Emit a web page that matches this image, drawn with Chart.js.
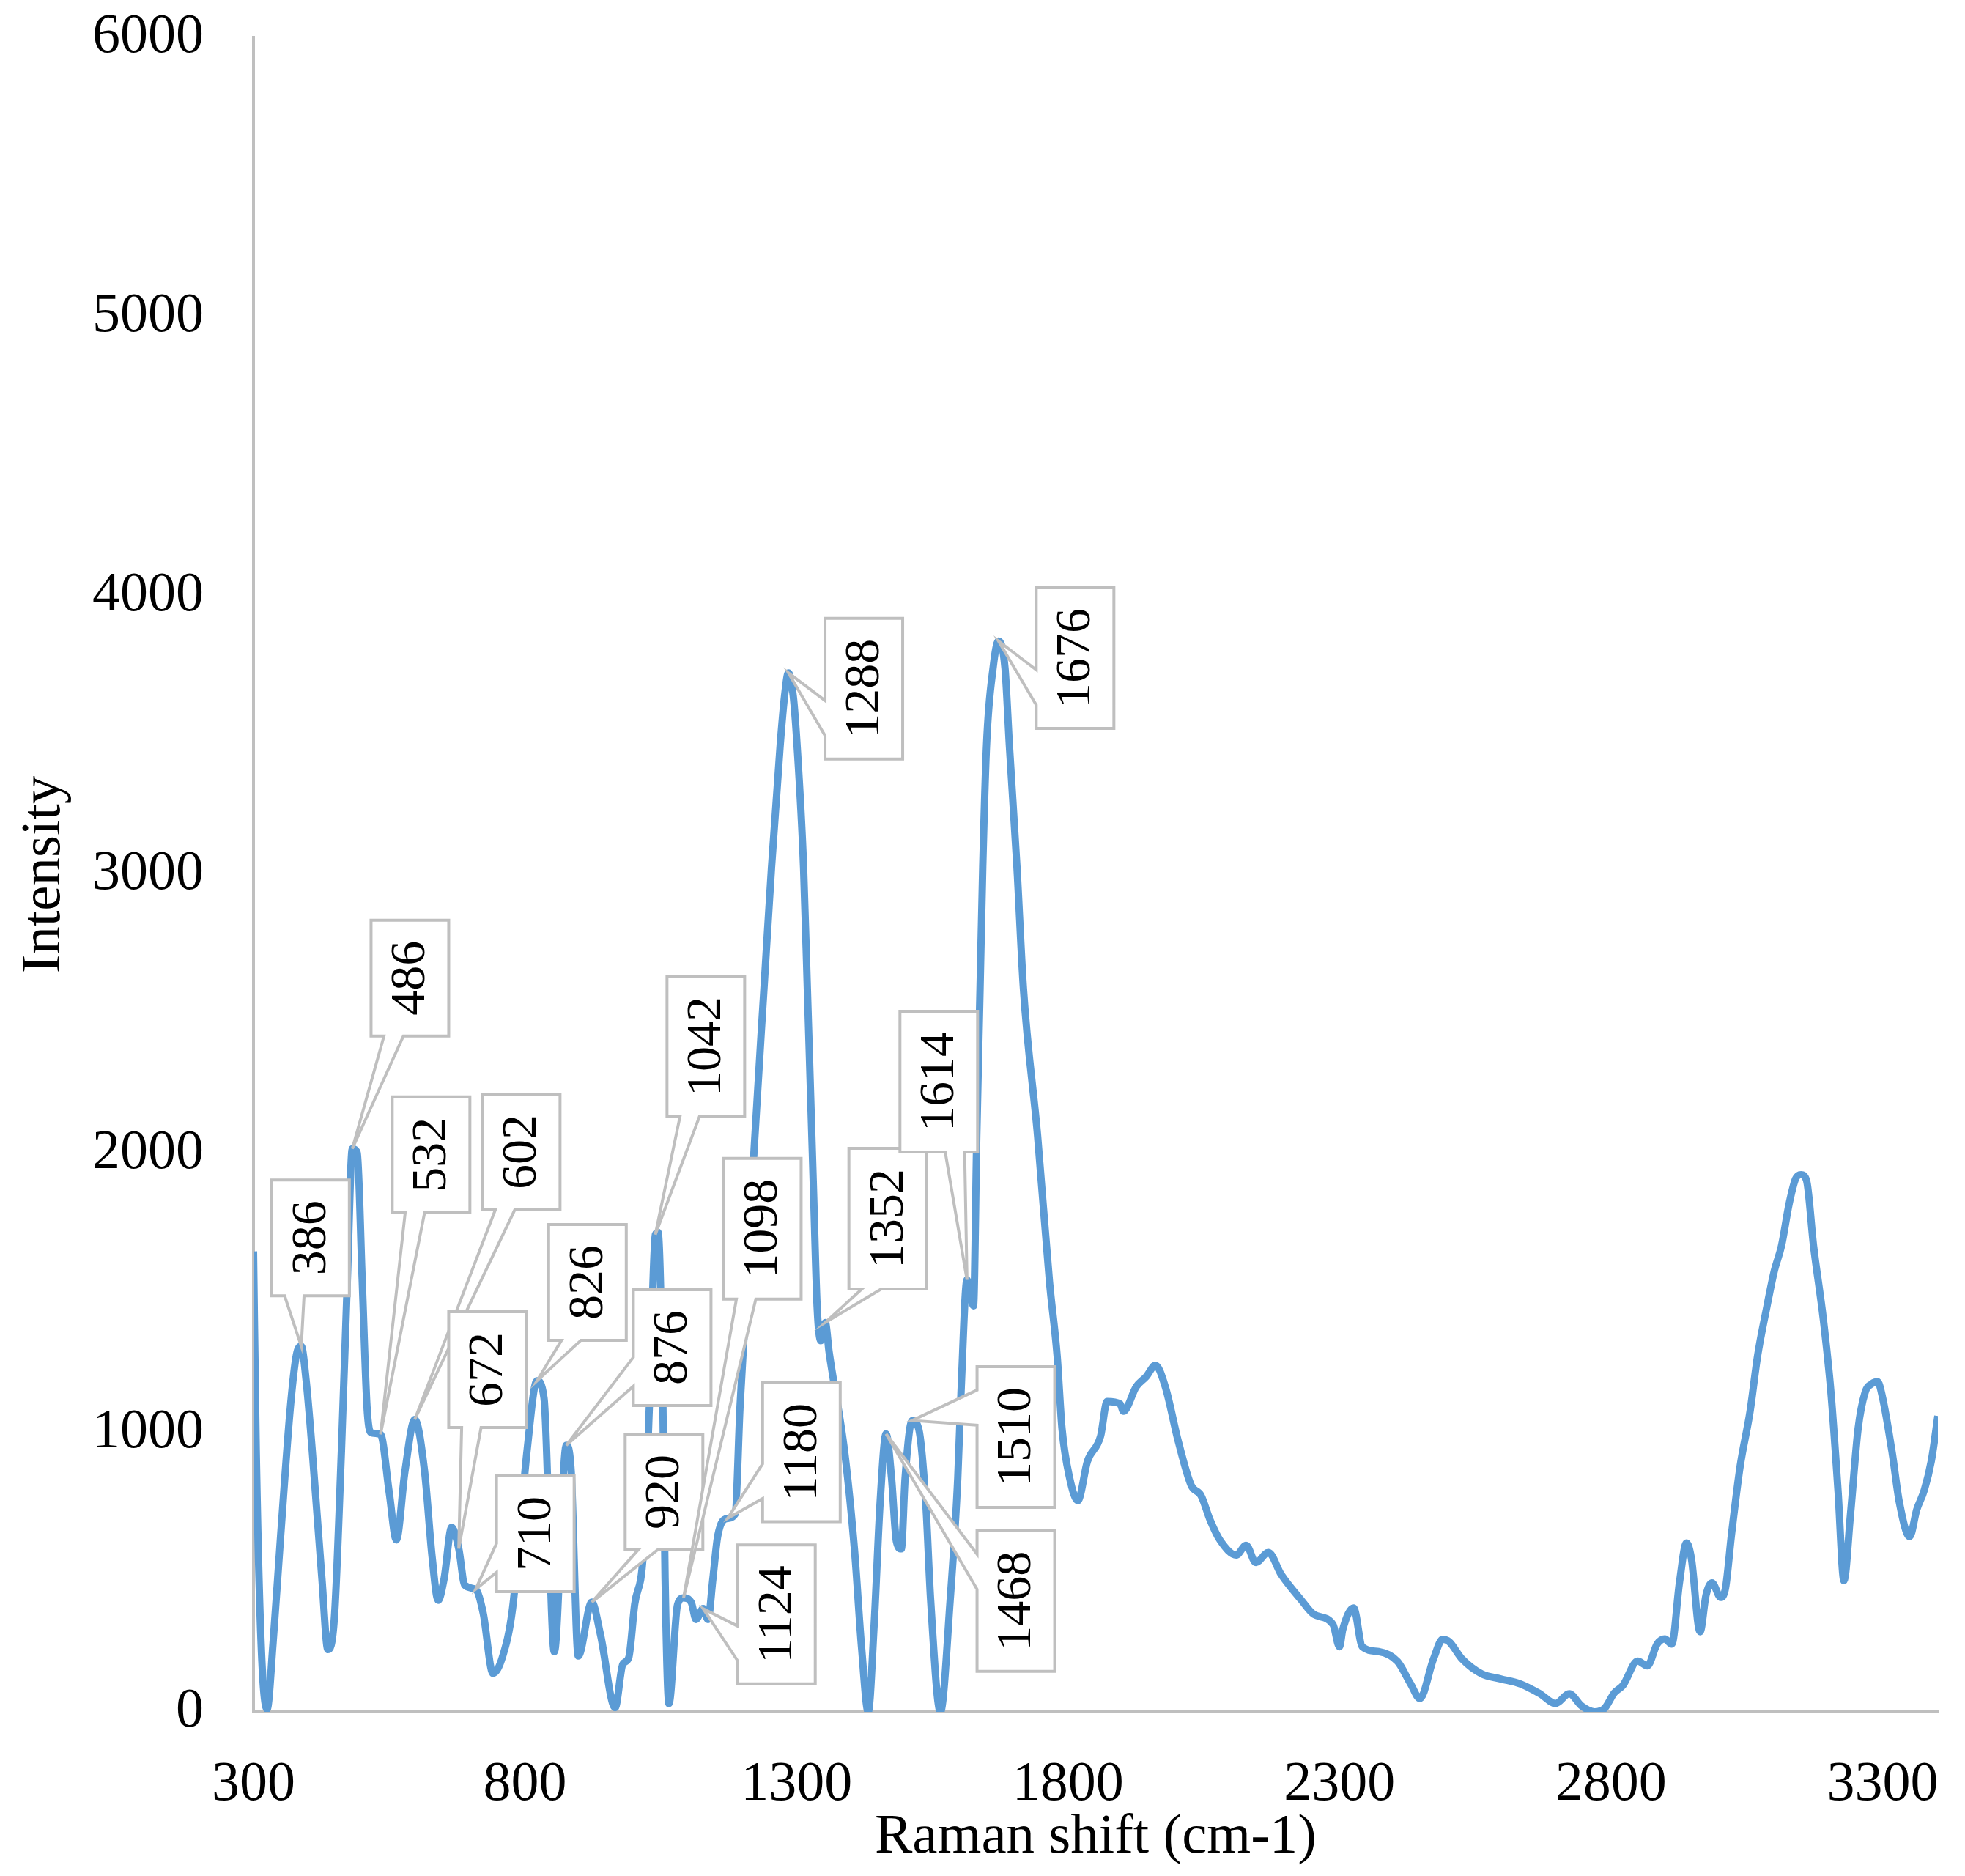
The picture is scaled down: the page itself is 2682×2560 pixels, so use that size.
<!DOCTYPE html>
<html>
<head>
<meta charset="utf-8">
<title>Raman spectrum</title>
<script src="https://cdn.jsdelivr.net/npm/chart.js@4.4.1/dist/chart.umd.min.js"></script>
<style>
  html, body { margin: 0; padding: 0; background: #fff; }
  canvas { display: block; }
</style>
</head>
<body>
<canvas id="spectrum" width="2682" height="2560"></canvas>
<script>
// ============================================================
// Raman spectrum with peak callouts
// ============================================================

// --- data ---
const shift = [
  300, 305, 314, 325, 336, 350, 368, 379, 388, 397, 408, 426, 437, 449, 462, 473, 482, 491, 500, 509,
  516, 534, 550, 563, 579, 597, 615, 629, 640, 651, 665, 678, 689, 709, 723, 741, 759, 777, 804, 822,
  835, 854, 876, 885, 898, 923, 939, 966, 980, 991, 1002, 1018, 1029, 1040, 1045, 1054, 1058, 1065, 1081, 1092,
  1106, 1115, 1128, 1137, 1146, 1155, 1173, 1187, 1196, 1205, 1222, 1240, 1254, 1270, 1278, 1285, 1294, 1301, 1313, 1320,
  1331, 1338, 1345, 1353, 1360, 1389, 1407, 1420, 1432, 1443, 1454, 1465, 1475, 1484, 1493, 1500, 1513, 1525, 1538, 1547,
  1565, 1583, 1597, 1603, 1614, 1626, 1632, 1638, 1643, 1650, 1662, 1672, 1684, 1692, 1706, 1718, 1744, 1766, 1780, 1789,
  1803, 1818, 1836, 1860, 1872, 1896, 1902, 1926, 1944, 1961, 1979, 2003, 2027, 2045, 2062, 2080, 2110, 2128, 2146, 2169,
  2193, 2229, 2253, 2288, 2300, 2306, 2326, 2342, 2372, 2407, 2431, 2448, 2473, 2490, 2502, 2526, 2562, 2597, 2633, 2669,
  2698, 2723, 2746, 2770, 2788, 2806, 2822, 2849, 2867, 2885, 2899, 2912, 2926, 2939, 2948, 2964, 2975, 2986, 3002, 3011,
  3022, 3038, 3056, 3070, 3087, 3101, 3114, 3128, 3140, 3150, 3160, 3173, 3191, 3205, 3218, 3229, 3241, 3255, 3268, 3280,
  3291, 3300, 3318, 3331, 3350, 3363, 3377, 3390, 3402
];
const intensity = [
  1650, 940, 246, 10, 246, 631, 1094, 1279, 1310, 1186, 940, 477, 223, 339, 940, 1556, 2018, 2003, 1556, 1094,
  1001, 994, 785, 616, 863, 1048, 863, 554, 400, 477, 662, 585, 454, 439, 354, 138, 200, 369, 940, 1186,
  1125, 215, 955, 863, 200, 393, 277, 15, 170, 194, 385, 571, 1094, 1710, 1718, 1094, 477, 30, 385, 408,
  393, 331, 370, 331, 477, 631, 693, 709, 1094, 1402, 2018, 2589, 3027, 3465, 3640, 3723, 3640, 3465, 3027, 2589,
  1889, 1451, 1330, 1395, 1290, 926, 576, 226, 0, 313, 751, 996, 838, 610, 584, 838, 1044, 1014, 751, 401,
  0, 401, 838, 1145, 1548, 1455, 2064, 2589, 3027, 3465, 3740, 3837, 3740, 3465, 3027, 2589, 2064, 1539, 1276, 1014,
  838, 757, 899, 988, 1112, 1103, 1077, 1166, 1201, 1242, 1166, 970, 811, 775, 686, 615, 562, 597, 535, 571,
  491, 402, 349, 313, 233, 295, 372, 233, 216, 180, 100, 48, 189, 260, 251, 189, 136, 118, 100, 65,
  30, 65, 21, 0, 12, 68, 95, 182, 165, 243, 261, 243, 462, 605, 550, 287, 418, 462, 410, 445,
  637, 882, 1075, 1276, 1451, 1582, 1670, 1820, 1910, 1925, 1905, 1670, 1407, 1145, 795, 470, 707, 1014, 1145, 1175,
  1183, 1127, 926, 751, 628, 724, 795, 900, 1060
];

// axis ticks
const xTickValues = [300, 800, 1300, 1800, 2300, 2800, 3300];
const yTickValues = [0, 1000, 2000, 3000, 4000, 5000, 6000];

// peak labels (the value shown is also the shift the callout points to)
const peakLabels = [386, 486, 532, 602, 672, 710, 826, 876, 920, 1042, 1098, 1124, 1180, 1288, 1352, 1614, 1676, 1468, 1510];

// --- callout layout (box centre in axis units, side the pointer leaves from) ---
const calloutBoxX = [405, 588, 627, 793, 731, 819, 915, 1071, 1056, 1133, 1237, 1263, 1309, 1424, 1468, 1562, 1813, 1704, 1704];
const calloutBoxY = [1698, 2629, 1996, 2006, 1226, 638, 1539, 1305, 788, 2384, 1731, 349, 930, 3666, 1767, 2258, 3776, 397, 985];
const calloutSide = ["b1", "b1", "b1", "b1", "b1", "l2", "b1", "l2", "b1", "b1", "b1", "l2", "l2", "l2", "b1", "b2", "l2", "l1", "l1"];

const SERIF = '"Liberation Serif", "Times New Roman", serif';
const GREY = "#bfbfbf";
const BLUE = "#5b9bd5";

function nearestIndex(value) {
  let best = 0;
  for (let i = 1; i < shift.length; i++) {
    if (Math.abs(shift[i] - value) < Math.abs(shift[best] - value)) best = i;
  }
  return best;
}

const calloutPlugin = {
  id: "callouts",
  afterDatasetsDraw(chart) {
    const { ctx, scales: { x, y } } = chart;
    ctx.save();
    ctx.font = "68px " + SERIF;
    peakLabels.forEach((label, i) => {
      const text = String(label);
      const k = nearestIndex(label);
      const tipX = x.getPixelForValue(shift[k]);
      const tipY = y.getPixelForValue(intensity[k]);
      const cx = x.getPixelForValue(calloutBoxX[i]);
      const cy = y.getPixelForValue(calloutBoxY[i]);
      const w = 106;
      const h = ctx.measureText(text).width + 56;
      const x0 = cx - w / 2, x1 = cx + w / 2, y0 = cy - h / 2, y1 = cy + h / 2;
      const side = calloutSide[i];
      const f = side[1] === "1" ? [1 / 6, 5 / 12] : [7 / 12, 5 / 6];

      ctx.beginPath();
      ctx.moveTo(x0, y0);
      ctx.lineTo(x1, y0);
      ctx.lineTo(x1, y1);
      if (side[0] === "b") {
        ctx.lineTo(x0 + w * f[1], y1);
        ctx.lineTo(tipX, tipY);
        ctx.lineTo(x0 + w * f[0], y1);
        ctx.lineTo(x0, y1);
      } else {
        ctx.lineTo(x0, y1);
        ctx.lineTo(x0, y0 + h * f[1]);
        ctx.lineTo(tipX, tipY);
        ctx.lineTo(x0, y0 + h * f[0]);
      }
      ctx.closePath();
      ctx.fillStyle = "#fff";
      ctx.fill();
      ctx.lineWidth = 4;
      ctx.lineJoin = "miter";
      ctx.strokeStyle = GREY;
      ctx.stroke();

      ctx.save();
      ctx.translate(cx, cy);
      ctx.rotate(-Math.PI / 2);
      ctx.fillStyle = "#000";
      ctx.textAlign = "center";
      ctx.textBaseline = "middle";
      ctx.fillText(text, 0, 2);
      ctx.restore();
    });
    ctx.restore();
  },
};

new Chart(document.getElementById("spectrum"), {
  type: "line",
  data: {
    datasets: [{
      label: "Intensity",
      data: shift.map((s, i) => ({ x: s, y: intensity[i] })),
      borderColor: BLUE,
      borderWidth: 10,
      pointRadius: 0,
      cubicInterpolationMode: "monotone",
      fill: false,
    }],
  },
  options: {
    responsive: false,
    devicePixelRatio: 1,
    animation: false,
    layout: { padding: { top: 51, right: 37, bottom: 0, left: 0 } },
    plugins: {
      legend: { display: false },
      tooltip: { enabled: false },
    },
    scales: {
      x: {
        type: "linear",
        min: 300,
        max: 3402,
        grid: { display: false, drawTicks: true, tickLength: 54 },
        border: { display: true, color: GREY, width: 4 },
        afterBuildTicks(scale) { scale.ticks = xTickValues.map(v => ({ value: v })); },
        ticks: {
          maxRotation: 0,
          autoSkip: false,
          padding: 0,
          color: "#000",
          font: { family: SERIF, size: 76 },
          callback: v => String(v),
        },
        title: {
          display: true,
          text: "Raman shift (cm-1)",
          color: "#000",
          font: { family: SERIF, size: 77, lineHeight: 1.2 },
          padding: { top: 0, bottom: 6 },
        },
        afterFit(scale) { scale.height = 224; },
      },
      y: {
        min: 0,
        max: 6000,
        grid: { display: false, drawTicks: true, tickLength: 68 },
        border: { display: true, color: GREY, width: 4 },
        afterBuildTicks(scale) { scale.ticks = yTickValues.map(v => ({ value: v })); },
        ticks: {
          padding: 0,
          color: "#000",
          font: { family: SERIF, size: 76 },
          callback: v => String(v),
        },
        title: {
          display: true,
          text: "Intensity",
          color: "#000",
          font: { family: SERIF, size: 77, lineHeight: 1.2 },
          padding: { top: 15, bottom: 0 },
        },
        afterFit(scale) { scale.width = 346; },
      },
    },
  },
  plugins: [calloutPlugin],
});
</script>
</body>
</html>
